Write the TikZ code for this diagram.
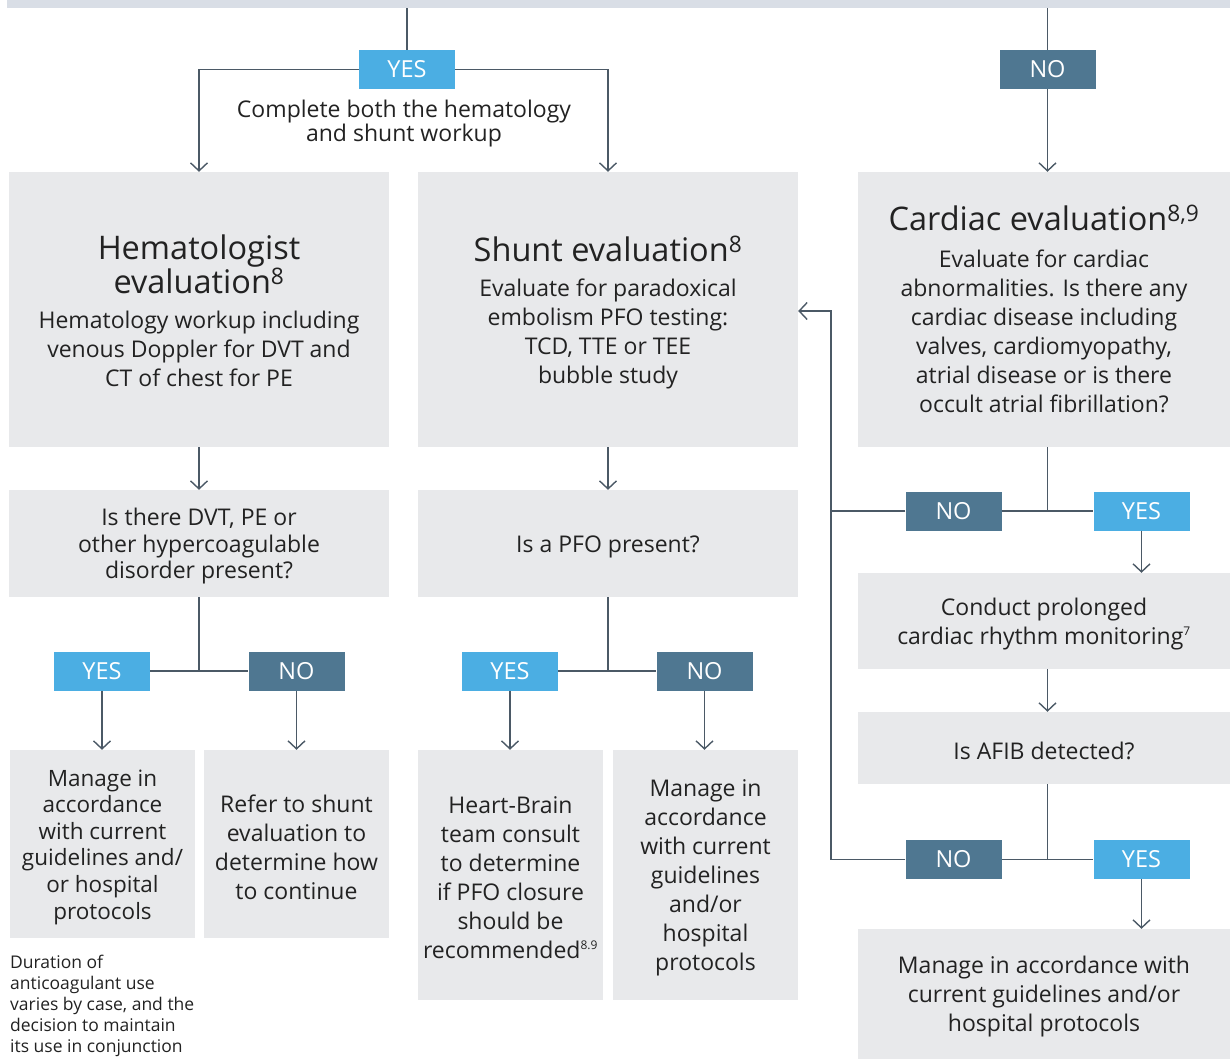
\documentclass[tikz,border=0pt]{standalone}
\usepackage{fontspec}
\setmainfont{Open Sans}
\usetikzlibrary{arrows.meta}
\definecolor{boxgray}{HTML}{E8E9EB}
\definecolor{bargray}{HTML}{D9DEE6}
\definecolor{linec}{HTML}{4B5966}
\definecolor{yesc}{HTML}{4BAEE3}
\definecolor{noc}{HTML}{4F7791}
\definecolor{txt}{HTML}{222222}
\newcommand{\ttlfont}{\fontsize{32.5}{34}\selectfont}
\newcommand{\bodyfont}{\fontsize{23}{29}\selectfont}
\newcommand{\smallsup}[1]{\textsuperscript{\fontsize{12}{12}\selectfont #1}}
\tikzset{
  box/.style={fill=boxgray, inner sep=0pt},
  lbl/.style={inner sep=0pt, align=center, text=txt, font=\bodyfont, yshift=-3pt},
  yesbox/.style={fill=yesc, text=white, inner sep=0pt, minimum width=96pt, minimum height=39pt, font=\fontsize{23.5}{25}\selectfont},
  nobox/.style={yesbox, fill=noc},
  conn/.style={draw=linec, line width=1.4pt},
  arr/.style={conn, -{Straight Barb[length=8pt,width=17pt,line width=1.4pt]}}
}
\begin{document}
\begin{tikzpicture}[x=1pt,y=-1pt]
\useasboundingbox (0,0) rectangle (1230,1059);
% top bar
\node[fill=bargray, inner sep=0pt, minimum width=1223pt, minimum height=8pt] (topbar) at (618.5,4) {};
% YES / NO top
\node[yesbox] (yes1) at (407,69.5) {YES};
\node[nobox] (no1) at (1047.5,69.5) {NO};
\node[lbl, font=\fontsize{23}{24}\selectfont] (cmp) at (404,121) {Complete both the hematology\\and shunt workup};
% row 1
\node[box, minimum width=380pt, minimum height=275pt] (hem) at (199,309.5) {};
\node[lbl] (hemT) at ([yshift=2pt]hem.center)
 {\ttlfont Hematologist\\\ttlfont evaluation\textsuperscript{8}\\[6pt]\bodyfont Hematology workup including\\venous Doppler for DVT and\\CT of chest for PE};
\node[box, minimum width=380pt, minimum height=275pt] (shunt) at (608,309.5) {};
\node[lbl] (shuntT) at (shunt.center)
 {\ttlfont Shunt evaluation\textsuperscript{8}\\[6pt]\bodyfont Evaluate for paradoxical\\embolism PFO testing:\\TCD, TTE or TEE\\bubble study};
\node[box, minimum width=372pt, minimum height=275pt] (card) at (1044,309.5) {};
\node[lbl] (cardT) at ([yshift=4pt]card.center)
 {\ttlfont Cardiac evaluation\textsuperscript{8,9}\\[8pt]\bodyfont Evaluate for cardiac\\abnormalities. Is there any\\cardiac disease including\\valves, cardiomyopathy,\\atrial disease or is there\\occult atrial fibrillation?};
% row 2
\node[box, minimum width=380pt, minimum height=107pt] (q1) at (199,543.5) {};
\node[lbl, font=\fontsize{23}{26.5}\selectfont] (q1T) at (q1.center)
 {Is there DVT, PE or\\other hypercoagulable\\disorder present?};
\node[box, minimum width=380pt, minimum height=107pt] (q2) at (608,543.5) {};
\node[lbl] (q2T) at (q2.center) {Is a PFO present?};
% yes/no row 2
\node[yesbox] (yesA) at (102,671) {YES};
\node[nobox] (noA) at (296.5,671) {NO};
\node[yesbox] (yesB) at (510,671) {YES};
\node[nobox] (noB) at (704.5,671) {NO};
% row 3
\node[box, minimum width=185pt, minimum height=188pt] (mg1) at (102.5,844) {};
\node[lbl, font=\fontsize{22.5}{26.6}\selectfont] (mg1T) at (mg1.center)
 {Manage in\\accordance\\with current\\guidelines and/\\or hospital\\protocols};
\node[box, minimum width=185pt, minimum height=188pt] (ref) at (296.5,844) {};
\node[lbl] (refT) at (ref.center)
 {Refer to shunt\\evaluation to\\determine how\\to continue};
\node[box, minimum width=185pt, minimum height=250pt] (hb) at (510.5,875) {};
\node[lbl] (hbT) at (hb.center)
 {Heart-Brain\\team consult\\to determine\\if PFO closure\\should be\\recommended\smallsup{8.9}};
\node[box, minimum width=185pt, minimum height=250pt] (mg2) at (705.5,875) {};
\node[lbl] (mg2T) at (mg2.center)
 {Manage in\\accordance\\with current\\guidelines\\and/or\\hospital\\protocols};
% footnote
\node[anchor=north west, inner sep=0pt, align=left, text=txt, font=\fontsize{17.5}{21}\selectfont] (fn) at (10,955)
 {Duration of\\anticoagulant use\\varies by case, and the\\decision to maintain\\its use in conjunction};
% right column
\node[nobox] (noC) at (953.5,511) {NO};
\node[yesbox] (yesC) at (1141.5,511) {YES};
\node[box, minimum width=372pt, minimum height=96pt] (cond) at (1044,621) {};
\node[lbl] (condT) at (cond.center)
 {Conduct prolonged\\cardiac rhythm monitoring\smallsup{7}};
\node[box, minimum width=372pt, minimum height=72pt] (afib) at (1044,748) {};
\node[lbl] (afibT) at (afib.center) {Is AFIB detected?};
\node[nobox] (noD) at (953.5,859.5) {NO};
\node[yesbox] (yesD) at (1141.5,859.5) {YES};
\node[box, minimum width=372pt, minimum height=130pt] (fin) at (1044,994) {};
\node[lbl] (finT) at (fin.center)
 {Manage in accordance with\\current guidelines and/or\\hospital protocols};
\coordinate (ret) at (831,311);
% connectors top
\draw[conn] (yes1.north |- topbar.south) -- (yes1.north);
\draw[arr] (yes1.west) -| (hem.north);
\draw[arr] (yes1.east) -| (shunt.north);
\draw[conn] (no1.north |- topbar.south) -- (no1.north);
\draw[arr] (no1.south) -- (no1.south |- card.north);
% left columns
\draw[arr] (hem.south) -- (q1.north);
\draw[arr] (shunt.south) -- (q2.north);
\draw[conn] (q1.south) -- (q1.south |- yesA.east);
\draw[conn] (yesA.east) -- (noA.west);
\draw[arr] (yesA.south) -- (yesA.south |- mg1.north);
\draw[arr] (noA.south) -- (noA.south |- ref.north);
\draw[conn] (q2.south) -- (q2.south |- yesB.east);
\draw[conn] (yesB.east) -- (noB.west);
\draw[arr] (yesB.south) -- (yesB.south |- hb.north);
\draw[arr] (noB.south) -- (noB.south |- mg2.north);
% right column
\draw[conn] (no1.south |- card.south) -- (no1.south |- noC.east);
\draw[conn] (noC.east) -- (yesC.west);
\draw[conn] (noC.west) -- (noC.west -| ret);
\draw[arr] (yesC.south) -- (yesC.south |- cond.north);
\draw[arr] (no1.south |- cond.south) -- (no1.south |- afib.north);
\draw[conn] (no1.south |- afib.south) -- (no1.south |- noD.east);
\draw[conn] (noD.east) -- (yesD.west);
\draw[arr] (yesD.south) -- (yesD.south |- fin.north);
\draw[arr] (noD.west) -| (ret) -- (ret -| shunt.east);
\end{tikzpicture}
\end{document}
